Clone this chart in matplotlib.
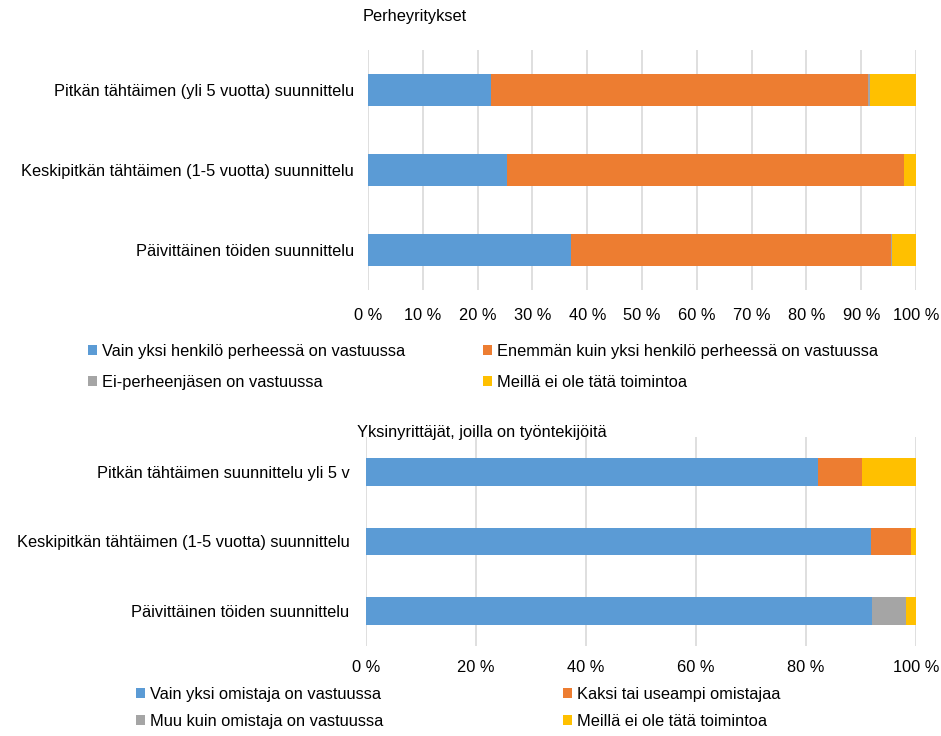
import matplotlib
matplotlib.use("Agg")
import matplotlib.pyplot as plt
import numpy as np

plt.rcParams['font.family'] = ['Liberation Sans', 'DejaVu Sans']

colors = ["#5B9BD5", "#ED7D31", "#A5A5A5", "#FFC000"]

# Perheyritykset
fam_categories = ["Päivittäinen töiden suunnittelu",
                  "Keskipitkän tähtäimen (1-5 vuotta) suunnittelu",
                  "Pitkän tähtäimen (yli 5 vuotta) suunnittelu"]
fam_labels = ["Vain yksi henkilö perheessä on vastuussa",
              "Enemmän kuin yksi henkilö perheessä on vastuussa",
              "Ei-perheenjäsen on vastuussa",
              "Meillä ei ole tätä toimintoa"]
fam_one = [37.0, 25.4, 22.4]
fam_many = [58.4, 72.5, 68.9]
fam_other = [0.2, 0.0, 0.3]
fam_none = [4.4, 2.1, 8.4]

# Yksinyrittäjät, joilla on työntekijöitä
solo_categories = ["Päivittäinen töiden suunnittelu",
                   "Keskipitkän tähtäimen (1-5 vuotta) suunnittelu",
                   "Pitkän tähtäimen suunnittelu yli 5 v"]
solo_labels = ["Vain yksi omistaja on vastuussa",
               "Kaksi tai useampi omistajaa",
               "Muu kuin omistaja on vastuussa",
               "Meillä ei ole tätä toimintoa"]
solo_one = [92.0, 91.9, 82.2]
solo_many = [0.0, 7.2, 7.9]
solo_other = [6.1, 0.0, 0.0]
solo_none = [1.9, 0.9, 9.9]

FS = 11.8
fig = plt.figure(figsize=(9.41, 7.36), dpi=100)


def draw(ax, cats, series, labels, step, title, title_x, title_y, col_x, leg_y,
         xpad, ypad, lspace):
    y = np.arange(len(cats))
    left = np.zeros(len(cats))
    handles = []
    for vals, c, lab in zip(series, colors, labels):
        h = ax.barh(y, vals, left=left, height=0.4, color=c, label=lab, zorder=3)
        handles.append(h)
        left += np.array(vals)
    ax.set_xlim(0, 100)
    ax.set_ylim(-0.5, len(cats) - 0.5)
    ax.set_yticks(y)
    ax.set_yticklabels(cats, fontsize=FS)
    ticks = np.arange(0, 101, step)
    ax.set_xticks(ticks)
    ax.set_xticklabels([f"{t} %" for t in ticks], fontsize=FS)
    ax.xaxis.grid(True, color="#D9D9D9", linewidth=1.2, zorder=0)
    for s in ['top', 'bottom', 'left', 'right']:
        ax.spines[s].set_visible(False)
    ax.tick_params(axis='both', length=0)
    ax.tick_params(axis='y', pad=ypad)
    ax.tick_params(axis='x', pad=xpad)
    fig.text(title_x, title_y, title, fontsize=FS, ha='center', va='center')
    # one legend per column so the column positions match
    for col, idx in enumerate([(0, 2), (1, 3)]):
        fig.legend([handles[i] for i in idx], [labels[i] for i in idx],
                   loc='center left', bbox_to_anchor=(col_x[col], leg_y),
                   ncol=1, frameon=False, fontsize=FS, handlelength=0.55,
                   handleheight=0.55, handletextpad=0.3, labelspacing=lspace,
                   borderpad=0, borderaxespad=0)


ax1 = fig.add_axes([368 / 941, 1 - 290 / 736, 548 / 941, 240 / 736])
draw(ax1, fam_categories, [fam_one, fam_many, fam_other, fam_none], fam_labels,
     10, "Perheyritykset", 415 / 941, 1 - 17 / 736,
     (88 / 941, 483 / 941), 1 - 367 / 736, 13, 10, 1.0)

ax2 = fig.add_axes([366 / 941, 1 - 646 / 736, 550 / 941, 209 / 736])
draw(ax2, solo_categories, [solo_one, solo_many, solo_other, solo_none], solo_labels,
     20, "Yksinyrittäjät, joilla on työntekijöitä", 482 / 941, 1 - 432 / 736,
     (136 / 941, 563 / 941), 1 - 708 / 736, 10, 12, 0.75)

fig.savefig("out.png", dpi=100)
